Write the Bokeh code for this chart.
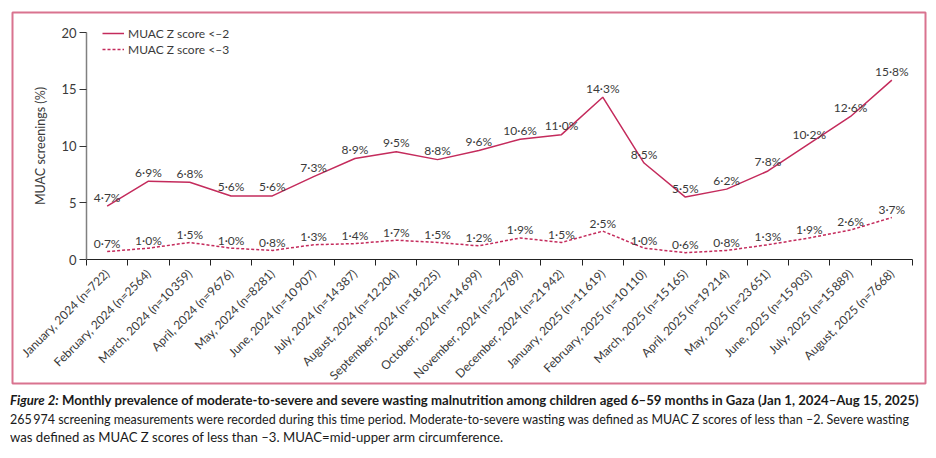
import math

from bokeh.core.properties import value
from bokeh.embed import file_html
from bokeh.layouts import column
from bokeh.models import Div, FixedTicker, Legend, LegendItem, Range1d
from bokeh.plotting import figure
from bokeh.resources import INLINE

# Monthly screening data, Gaza, Jan 2024 - Aug 2025
months = [
    "January, 2024", "February, 2024", "March, 2024", "April, 2024",
    "May, 2024", "June, 2024", "July, 2024", "August, 2024",
    "September, 2024", "October, 2024", "November, 2024", "December, 2024",
    "January, 2025", "February, 2025", "March, 2025", "April, 2025",
    "May, 2025", "June, 2025", "July, 2025", "August, 2025",
]
screened = [722, 2564, 10359, 9676, 8281, 10907, 14387, 12204, 18225, 14699,
            22789, 21942, 11619, 10110, 15165, 19214, 23651, 15903, 15889, 7668]
muac_lt2 = [4.7, 6.9, 6.8, 5.6, 5.6, 7.3, 8.9, 9.5, 8.8, 9.6,
            10.6, 11.0, 14.3, 8.5, 5.5, 6.2, 7.8, 10.2, 12.6, 15.8]
muac_lt3 = [0.7, 1.0, 1.5, 1.0, 0.8, 1.3, 1.4, 1.7, 1.5, 1.2,
            1.9, 1.5, 2.5, 1.0, 0.6, 0.8, 1.3, 1.9, 2.6, 3.7]
y_ticks = [0, 5, 10, 15, 20]
y_max = 20
series_names = ["MUAC Z score <\u20132", "MUAC Z score <\u20133"]

RED = "#c42b5c"
PINK = "#d9738f"
TEXT = "#3a3a3a"
FONT = "Lato"

# Panel geometry (px): the frame is the framed panel, the axes sit inside it
W, H = 936, 388
BOX_L, BOX_T, BOX_R, BOX_B = 12, 12, 925, 383
AX_L, AX_R, AX_T, AX_B = 86, 912, 32, 259


def n_text(n):
    s = str(n)
    if n >= 10000:
        s = s[:-3] + "\u2009" + s[-3:]
    return s


def pct(v):
    return f"{v:.1f}".replace(".", "\u00b7") + "%"


tick_labels = [f"{m} (n={n_text(n)})" for m, n in zip(months, screened)]
xs = list(range(len(months)))

# map the inner axes box onto data coordinates, then extend to the outer frame
x0, x1 = -0.5, len(months) - 0.5
kx = (x1 - x0) / (AX_R - AX_L)
ky = y_max / (AX_B - AX_T)
x_range = Range1d(x0 - (AX_L - BOX_L) * kx, x1 + (BOX_R - AX_R) * kx)
y_range = Range1d(-(BOX_B - AX_B) * ky, y_max + (AX_T - BOX_T) * ky)

p = figure(width=W, height=H, x_range=x_range, y_range=y_range,
           output_backend="svg", toolbar_location=None,
           min_border_left=BOX_L, min_border_right=W - BOX_R,
           min_border_top=BOX_T, min_border_bottom=H - BOX_B)
p.outline_line_color = PINK
p.outline_line_width = 2
p.grid.visible = False
p.background_fill_color = "white"
p.border_fill_color = "white"

r1 = p.line(xs, muac_lt2, line_color=RED, line_width=1.5)
r2 = p.line(xs, muac_lt3, line_color=RED, line_width=1.5, line_dash="3 2")

p.text(x=xs, y=muac_lt2, text=[pct(v) for v in muac_lt2],
       text_align="center", text_baseline="alphabetic", y_offset=-9,
       text_font=value(FONT), text_font_size="12px", text_color=TEXT)
p.text(x=xs, y=muac_lt3, text=[pct(v) for v in muac_lt3],
       text_align="center", text_baseline="alphabetic", y_offset=-8,
       text_font=value(FONT), text_font_size="12px", text_color=TEXT)

# x axis at y=0: labels under each month, tick marks on the month boundaries
xa = p.xaxis[0]
xa.fixed_location = 0
xa.bounds = (x0, x1)
xa.ticker = FixedTicker(ticks=xs, minor_ticks=[i - 0.5 for i in range(len(months) + 1)])
xa.major_label_overrides = {i: t for i, t in enumerate(tick_labels)}
xa.major_label_orientation = math.pi / 4
xa.major_tick_out = 0
xa.major_tick_in = 0
xa.minor_tick_out = 6
xa.minor_tick_in = 0
xa.minor_tick_line_color = "#222222"
xa.axis_line_color = "#222222"
xa.major_label_standoff = 6
xa.major_label_text_font = FONT
xa.major_label_text_font_size = "12px"
xa.major_label_text_color = TEXT

# y axis on the left month boundary
ya = p.yaxis[0]
ya.fixed_location = x0
ya.bounds = (0, y_max)
ya.ticker = FixedTicker(ticks=y_ticks)
ya.minor_tick_line_color = None
ya.major_tick_out = 7
ya.major_tick_in = 0
ya.major_tick_line_color = "#333333"
ya.axis_line_color = "#808080"
ya.axis_line_width = 1.5
ya.major_label_standoff = 3
ya.major_label_text_font = FONT
ya.major_label_text_font_size = "13px"
ya.major_label_text_color = TEXT
ya.axis_label = "MUAC screenings (%)"
ya.axis_label_text_font = FONT
ya.axis_label_text_font_size = "12.5px"
ya.axis_label_text_font_style = "normal"
ya.axis_label_text_color = TEXT
ya.axis_label_standoff = 10

legend = Legend(items=[LegendItem(label=series_names[0], renderers=[r1]),
                       LegendItem(label=series_names[1], renderers=[r2])],
                location=(102 - BOX_L, BOX_B - 57), orientation="vertical",
                border_line_color=None, background_fill_alpha=0,
                padding=0, margin=0, spacing=0,
                glyph_width=22, glyph_height=16, label_height=16,
                label_standoff=4, label_text_font=FONT,
                label_text_font_size="12px", label_text_color=TEXT)
p.add_layout(legend)

# caption, one line per row, horizontally condensed
caption_lines = [
    ("<span style=\"font-style:italic\">Figure 2:</span> "
     "Monthly prevalence of moderate-to-severe and severe wasting malnutrition among "
     "children aged 6\u201359 months in Gaza (Jan 1, 2024\u2013Aug 15, 2025)", "bold", 0.975),
    ("265\u2009974 screening measurements were recorded during this time period. "
     "Moderate-to-severe wasting was defined as MUAC Z scores of less than \u20132. "
     "Severe wasting", "normal", 0.925),
    ("was defined as MUAC Z scores of less than \u20133. MUAC=mid-upper arm circumference.",
     "normal", 0.975),
]
rows = "".join(
    f"<div style=\"font-weight:{w};transform:scaleX({s});transform-origin:0 0;"
    f"white-space:nowrap;height:18.5px;\">{t}</div>"
    for t, w, s in caption_lines
)
caption_html = (
    "<div style=\"font-family:Lato,sans-serif;font-size:13.5px;line-height:18.5px;"
    f"color:#1a1a1a;\">{rows}</div>"
)
caption = Div(text=caption_html, width=W - 10, height=458 - H - 4, margin=(3, 0, 0, 10))

layout = column(p, caption, spacing=0)
open("out.html", "w").write(file_html(layout, INLINE))
